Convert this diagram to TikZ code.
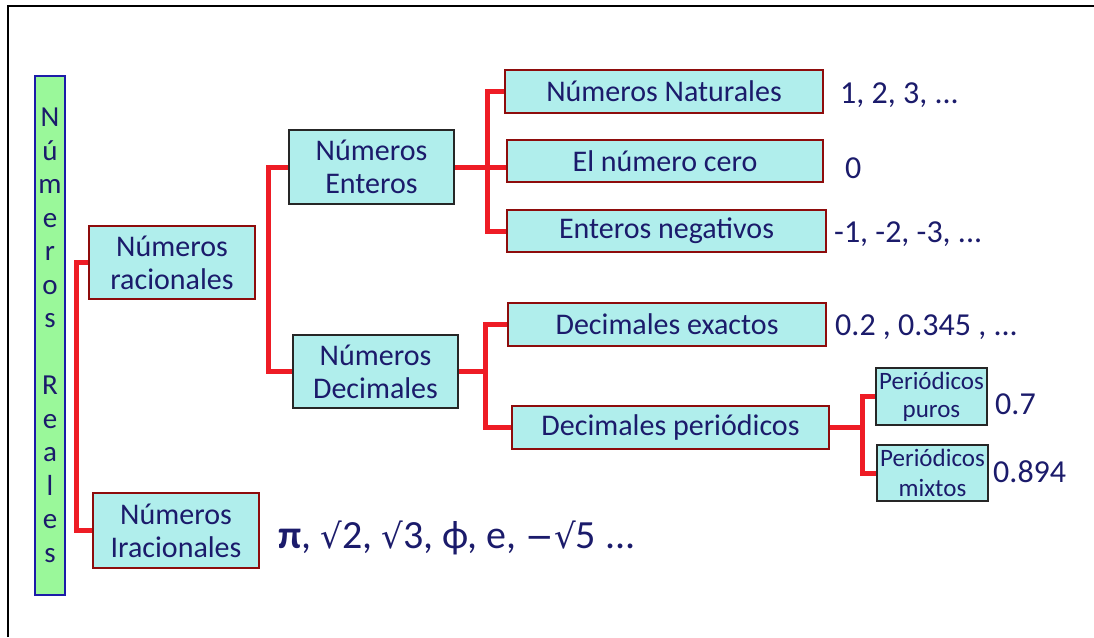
\documentclass[tikz,border=0pt]{standalone}
\usepackage{fontspec}
\setmainfont{Carlito}
\newfontfamily\symfont{DejaVu Sans}
\definecolor{navy}{HTML}{1B1B6B}
\definecolor{boxfill}{HTML}{B0EEEC}
\definecolor{boxred}{HTML}{8E0C0C}
\definecolor{conred}{HTML}{EE1C25}
\definecolor{barfill}{HTML}{9AF89A}
\definecolor{barblue}{HTML}{1C1CA8}
\newcommand{\sq}{{\symfont\fontsize{34}{36}\selectfont√}}
\tikzset{
  x=1pt,y=-1pt,
  every node/.style={text=navy,font=\fontsize{30}{33}\selectfont},
  rbox/.style={draw=boxred,fill=boxfill,line width=2.6pt,inner sep=0pt,align=center},
  kbox/.style={draw=black!85,fill=boxfill,line width=2.6pt,inner sep=0pt,align=center},
  conn/.style={draw=conred,line width=5pt},
  val/.style={anchor=west,inner sep=0pt,font=\fontsize{32}{33}\selectfont},
}
\begin{document}
\begin{tikzpicture}
\useasboundingbox (0,0) rectangle (1094,637);
% frame
\draw[line width=2pt] (8,637) -- (8,6) -- (1094,6);
% vertical bar
\node[draw=barblue,fill=barfill,line width=2pt,minimum width=30,minimum height=519,inner sep=0pt,align=center,font=\fontsize{29}{33.5}\selectfont] (bar) at (50,335.5)
 {N\\ú\\m\\e\\r\\o\\s\\ \\R\\e\\a\\l\\e\\s};
% level 1
\node[rbox,minimum width=166,minimum height=73] (rac) at (172,262.5) {Números\\racionales};
\node[rbox,minimum width=166,minimum height=75] (irr) at (176,530.5) {Números\\Iracionales};
% level 2
\node[kbox,minimum width=165,minimum height=74] (ent) at (371.5,167) {Números\\Enteros};
\node[kbox,minimum width=165,minimum height=73] (dec) at (375.5,371.5) {Números\\Decimales};
% level 3
\node[rbox,minimum width=318,minimum height=43] (nat) at (664,91.5) {Números Naturales};
\node[rbox,minimum width=316,minimum height=42] (cero) at (665,161) {El número cero};
\node[rbox,minimum width=319,minimum height=42] (neg) at (666.5,231) {Enteros negativos};
\node[rbox,minimum width=318,minimum height=43] (exa) at (667,324.5) {Decimales exactos};
\node[rbox,minimum width=317,minimum height=43] (per) at (670.5,427.5) {Decimales periódicos};
% level 4
\node[kbox,minimum width=111,minimum height=57,font=\fontsize{25}{28}\selectfont] (pur) at (931.5,396.5) {Periódicos\\puros};
\node[kbox,minimum width=111,minimum height=56,font=\fontsize{25}{30}\selectfont] (mix) at (932.5,473) {Periódicos\\mixtos};
% values
\node[val] (v1) at (840,95) {1, 2, 3, ...};
\node[val] (v2) at (845,168) {0};
\node[val] (v3) at (834,234) {-1, -2, -3, ...};
\node[val] (v4) at (835,327) {0.2 , 0.345 , ...};
\node[val] (v5) at (995,404) {0.7};
\node[val] (v6) at (993,472) {0.894};
\node[val,font=\fontsize{40}{42}\selectfont] (v7) at (278,538) {\textbf{π}, \sq2, \sq3, ϕ, e, {\symfont\fontsize{34}{36}\selectfont−}\sq5 ...};
% connectors
\coordinate (s1) at (76,0);
\coordinate (s2) at (268,0);
\coordinate (s3) at (487,0);
\coordinate (s4) at (485,0);
\coordinate (s5) at (862,0);
\draw[conn] (rac.west) -| (s1 |- irr.west) -- (irr.west);
\draw[conn] (ent.west) -| (s2 |- dec.west) -- (dec.west);
\draw[conn] (ent.east) -- (cero.west |- ent.east);
\draw[conn] (nat.west) -| (s3 |- neg.west) -- (neg.west);
\draw[conn] (dec.east) -- (s4 |- dec.east);
\draw[conn] (exa.west) -| (s4 |- per.west) -- (per.west);
\draw[conn] (per.east) -- (s5 |- per.east);
\draw[conn] (pur.west) -| (s5 |- mix.west) -- (mix.west);
\end{tikzpicture}
\end{document}
